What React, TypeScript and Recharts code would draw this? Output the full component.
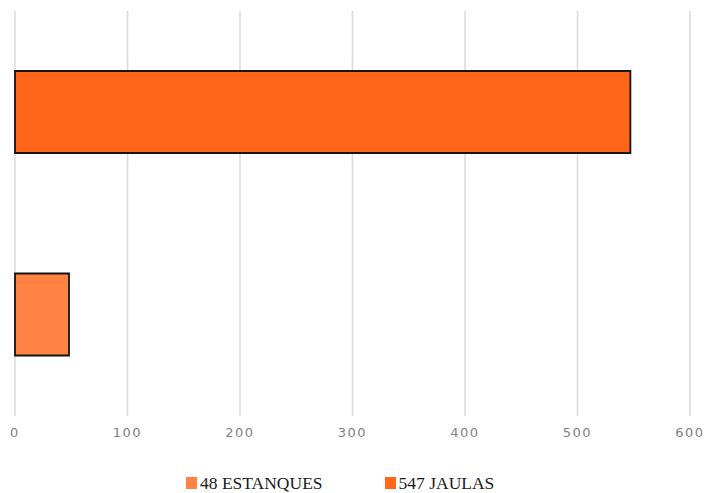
import React from "react";
import { BarChart, Bar, XAxis, YAxis, CartesianGrid, Legend, Cell } from "recharts";

const categories = ["JAULAS", "ESTANQUES"];
const values = [547, 48];
const xTicks = [0, 100, 200, 300, 400, 500, 600];
const legendOrder = ["ESTANQUES", "JAULAS"];

const COLORS: Record<string, string> = {
  JAULAS: "#FF661A",
  ESTANQUES: "#FF8444",
};

const data = categories.map((c, i) => ({ name: c, value: values[i] }));

const LegendContent = () => (
  <div
    style={{
      display: "flex",
      justifyContent: "flex-start",
      alignItems: "center",
      paddingLeft: 186,
      fontFamily: "'Liberation Serif', 'Times New Roman', serif",
      fontSize: 17.5,
      lineHeight: "20px",
      color: "#1a1a1a",
    }}
  >
    {legendOrder.map((name, i) => {
      const v = values[categories.indexOf(name)];
      return (
        <div
          key={name}
          style={{ display: "flex", alignItems: "center", marginRight: i === 0 ? 62 : 0 }}
        >
          <span
            style={{
              display: "inline-block",
              width: 11,
              height: 12,
              background: COLORS[name],
              marginRight: 3,
            }}
          />
          <span style={{ whiteSpace: "nowrap" }}>{`${v} ${name}`}</span>
        </div>
      );
    })}
  </div>
);

export default function App() {
  return (
    <div style={{ position: "absolute", left: 0, top: 0, background: "#fff" }}>
      <BarChart
        width={710}
        height={493}
        data={data}
        layout="vertical"
        margin={{ top: 11, right: 20, left: 15, bottom: 26 }}
      >
        <CartesianGrid horizontal={false} vertical={true} stroke="#dcdcdc" strokeWidth={1.6} />
        <XAxis
          type="number"
          domain={[0, 600]}
          ticks={xTicks}
          axisLine={false}
          tickLine={false}
          tickMargin={6}
          interval={0}
          height={30}
          tick={{ fill: "#7f7f86", fontSize: 13, fontFamily: "'DejaVu Sans', sans-serif", letterSpacing: 1.5 }}
        />
        <YAxis type="category" dataKey="name" hide width={0} />
        <Legend
          content={<LegendContent />}
          height={21}
          wrapperStyle={{ position: "absolute", left: 0, top: 473, width: 710 }}
        />
        <Bar dataKey="value" barSize={82} stroke="#141414" strokeWidth={1.8} isAnimationActive={false}>
          {data.map((d) => (
            <Cell key={d.name} fill={COLORS[d.name]} />
          ))}
        </Bar>
      </BarChart>
    </div>
  );
}
